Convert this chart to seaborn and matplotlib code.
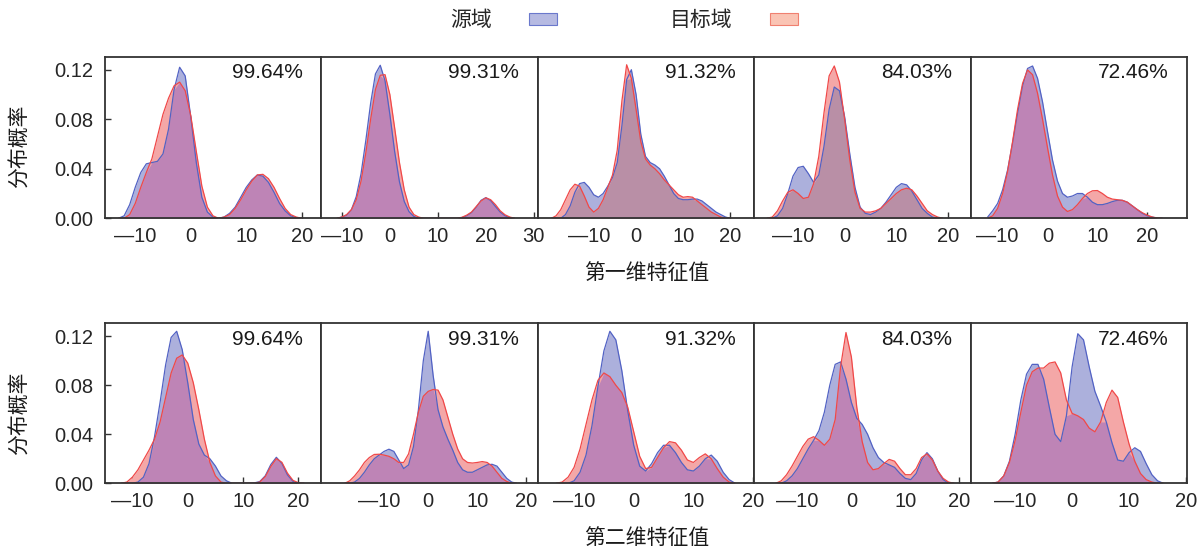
import numpy as np
import pandas as pd
import matplotlib
matplotlib.use("Agg")
import matplotlib.pyplot as plt
import seaborn as sns
from matplotlib.patches import Patch
from matplotlib.ticker import FuncFormatter

sns.set_theme(style="white")
plt.rcParams["font.family"] = ["Liberation Sans", "Noto Sans CJK SC", "DejaVu Sans"]
CJK = ["Noto Sans CJK SC", "DejaVu Sans"]

# ---------------- data (density values) ----------------
legend_labels = ["源域", "目标域"]
row_labels = ["第一维特征值", "第二维特征值"]
y_label = "分布概率"
acc_labels = ["99.64%", "99.31%", "91.32%", "84.03%", "72.46%"]

# ---- row 1 (first feature dimension) ----
r1_x1 = list(range(-13, 21))
r1_src1 = [0, .002, .011, .025, .037, .044, .045, .046, .052, .072, .104, .122, .115, .082, .045, .017, .005, .001,
           0, .001, .004, .009, .017, .025, .031, .035, .034, .029, .021, .012, .006, .002, .0005, 0]
r1_tgt1 = [0, 0, .003, .012, .025, .037, .048, .066, .084, .097, .107, .110, .103, .083, .054, .026, .009, .002,
           0, .001, .003, .008, .015, .023, .030, .035, .0355, .032, .025, .016, .008, .003, .001, 0]

r1_x2 = list(range(-11, 27))
r1_src2 = [0, .001, .0025, .007, .0175, .036, .063, .093, .1166, .1236, .111, .084, .054, .0295, .0136, .0053, .0015, 0,
           0, 0, 0, 0, 0, 0, 0, 0,
           .0005, .002, .0045, .009, .0145, .0167, .0143, .0095, .005, .002, .0005, 0]
r1_tgt2 = [0, .001, .003, .007, .015, .030, .053, .080, .104, .1155, .116, .100, .073, .045, .023, .009, .003, .001,
           0, 0, 0, 0, 0, 0, 0, 0,
           .0008, .0025, .005, .0095, .014, .0165, .015, .011, .006, .0028, .001, 0]

r1_x3 = list(range(-18, 21))
r1_src3 = [0, 0, 0, .003, .010, .021, .028, .029, .025, .019, .017, .020, .026, .033, .045, .075, .112, .120, .100,
           .068, .050, .045, .043, .040, .034, .027, .020, .016, .015, .015, .0155, .0155, .014, .011, .008, .005,
           .003, .001, 0]
r1_tgt3 = [0, .002, .007, .015, .023, .0275, .026, .018, .009, .005, .008, .015, .025, .035, .055, .095, .124, .113,
           .088, .062, .048, .043, .040, .036, .031, .027, .023, .019, .017, .0175, .017, .014, .011, .008, .005,
           .003, .001, 0, 0]

r1_x4 = list(range(-15, 20))
r1_src4 = [0, 0, .002, .008, .020, .034, .041, .042, .036, .029, .035, .058, .088, .106, .103, .082, .052, .025, .009,
           .004, .003, .005, .008, .013, .019, .025, .028, .027, .022, .015, .008, .004, .001, 0, 0]
r1_tgt4 = [0, .001, .006, .014, .021, .023, .020, .016, .017, .028, .050, .085, .115, .123, .110, .080, .047, .021,
           .008, .005, .005, .006, .008, .012, .016, .020, .023, .0243, .023, .018, .012, .006, .003, .001, 0]

r1_x5 = list(range(-12, 24))
r1_src5 = [.001, .006, .012, .023, .039, .061, .085, .107, .121, .123, .113, .094, .070, .047, .030, .020, .017, .018,
           .020, .020, .017, .013, .011, .011, .012, .0135, .0145, .0145, .013, .010, .007, .004, .002, .001, 0, 0]
r1_tgt5 = [0, .002, .008, .020, .038, .062, .088, .109, .1198, .116, .101, .080, .057, .035, .018, .009, .0055, .007,
           .011, .016, .020, .0222, .0224, .020, .017, .0155, .015, .0145, .013, .010, .007, .0045, .0025, .001,
           .0003, 0]

# ---- row 2 (second feature dimension) ----
r2_x1 = list(range(-12, 22))
r2_src1 = [0, 0, 0, .001, .005, .016, .038, .066, .0965, .119, .124, .109, .082, .052, .032, .023, .020, .014, .006,
           .002, 0, 0, 0, 0, .0003, .0014, .0061, .0153, .0212, .0162, .0069, .0016, 0, 0]
r2_tgt1 = [0, .001, .005, .011, .019, .027, .036, .050, .070, .090, .102, .1047, .098, .082, .060, .036, .017, .006,
           .001, 0, 0, 0, 0, 0, 0, .001, .0054, .0137, .0201, .0171, .0083, .0024, .0004, 0]

r2_x2 = list(range(-17, 19))
r2_src2 = [0, 0, .001, .004, .009, .015, .020, .023, .026, .0278, .026, .019, .012, .015, .030, .060, .100, .124,
           .088, .060, .046, .036, .027, .017, .011, .009, .009, .011, .013, .015, .0155, .014, .009, .004, .001, 0]
r2_tgt2 = [0, .002, .006, .011, .017, .021, .0235, .0237, .023, .022, .020, .017, .017, .024, .040, .058, .071, .075,
           .0765, .076, .068, .054, .040, .028, .020, .017, .0165, .017, .0177, .017, .014, .009, .004, .0015, 0, 0]

r2_x3 = list(range(-13, 18))
r2_src3 = [0, 0, 0, .002, .009, .023, .047, .079, .108, .124, .117, .092, .059, .031, .014, .010, .016, .025, .031,
           .031, .025, .017, .011, .010, .014, .020, .023, .018, .009, .003, 0]
r2_tgt3 = [0, .001, .005, .013, .028, .048, .068, .084, .090, .087, .080, .074, .062, .042, .022, .012, .013, .021,
           .029, .034, .033, .027, .019, .017, .021, .024, .020, .012, .005, .001, 0]

r2_x4 = list(range(-14, 20))
r2_src4 = [0, 0, .002, .006, .012, .020, .028, .035, .043, .058, .080, .097, .099, .085, .066, .053, .048, .040, .029,
           .021, .017, .015, .013, .008, .004, .003, .008, .019, .025, .020, .010, .003, 0, 0]
r2_tgt4 = [0, .002, .007, .014, .022, .030, .036, .038, .035, .031, .036, .052, .095, .123, .103, .062, .034, .017,
           .011, .012, .016, .0195, .018, .012, .007, .007, .012, .021, .024, .019, .010, .004, .001, 0]

r2_x5 = list(range(-14, 17))
r2_src5 = [0, .001, .006, .018, .040, .068, .089, .097, .097, .085, .062, .040, .034, .055, .095, .122, .117, .095,
           .075, .063, .050, .033, .019, .018, .025, .029, .026, .016, .007, .002, 0]
r2_tgt5 = [0, .001, .006, .017, .035, .058, .080, .091, .094, .094, .098, .099, .090, .068, .057, .055, .052, .045,
           .042, .050, .066, .076, .070, .050, .032, .018, .008, .003, .001, 0, 0]

rows = [
    [(r1_x1, r1_src1, r1_tgt1), (r1_x2, r1_src2, r1_tgt2), (r1_x3, r1_src3, r1_tgt3),
     (r1_x4, r1_src4, r1_tgt4), (r1_x5, r1_src5, r1_tgt5)],
    [(r2_x1, r2_src1, r2_tgt1), (r2_x2, r2_src2, r2_tgt2), (r2_x3, r2_src3, r2_tgt3),
     (r2_x4, r2_src4, r2_tgt4), (r2_x5, r2_src5, r2_tgt5)],
]

xlims = [
    [(-15.5, 23.5), (-14.3, 30.8), (-20.9, 25.1), (-17.5, 24.4), (-15.4, 28.0)],
    [(-15.0, 24.1), (-21.8, 22.3), (-16.1, 20.2), (-18.0, 22.1), (-17.8, 20.2)],
]
xticks = [
    [[-10, 0, 10, 20], [-10, 0, 10, 20, 30], [-10, 0, 10, 20], [-10, 0, 10, 20], [-10, 0, 10, 20]],
    [[-10, 0, 10, 20], [-10, 0, 10, 20], [-10, 0, 10, 20], [-10, 0, 10, 20], [-10, 0, 10, 20]],
]
yticks = [0.00, 0.04, 0.08, 0.12]

# ---------------- style ----------------
BLUE_LINE = "#5262c4"
RED_LINE = "#f04848"
BLUE_ONLY = "#acb0dc"
RED_ONLY = "#f4a7a7"
OVERLAP = "#be84b6"
OVERLAP_DULL = "#b98fa6"   # the two middle-right panels of row 1 look duller
overlap_colors = [
    [OVERLAP, OVERLAP, OVERLAP_DULL, OVERLAP_DULL, OVERLAP],
    [OVERLAP, OVERLAP, OVERLAP, OVERLAP, OVERLAP],
]
SPINE = "#333333"

fig = plt.figure(figsize=(12.02, 5.49), dpi=100)
left0 = 104.7 / 1202
pw = 216.5 / 1202
row_pos = [(0.6024, 0.2943), (0.1197, 0.2914)]


def fmt(v, pos):
    v = int(round(v))
    return f"—{abs(v)}" if v < 0 else f"{v}"


for r, panels in enumerate(rows):
    b, h = row_pos[r]
    for c, (x, src, tgt) in enumerate(panels):
        ax = fig.add_axes([left0 + c * pw, b, pw, h])
        df = pd.DataFrame({
            "x": x + x,
            "y": src + tgt,
            "domain": [legend_labels[0]] * len(x) + [legend_labels[1]] * len(x),
        })
        both = np.minimum(src, tgt)
        ax.fill_between(x, src, color=BLUE_ONLY, lw=0, zorder=1)
        ax.fill_between(x, tgt, color=RED_ONLY, lw=0, zorder=1.5)
        ax.fill_between(x, both, color=overlap_colors[r][c], lw=0, zorder=2)
        sns.lineplot(data=df, x="x", y="y", hue="domain",
                     palette={legend_labels[0]: BLUE_LINE, legend_labels[1]: RED_LINE},
                     estimator=None, legend=False, lw=0.9, ax=ax, zorder=3)
        ax.set_xlim(*xlims[r][c])
        ax.set_ylim(0, 0.1305)
        ax.set_xticks(xticks[r][c])
        ax.xaxis.set_major_formatter(FuncFormatter(fmt))
        ax.set_xlabel("")
        ax.set_ylabel("")
        ax.tick_params(axis="x", direction="in", length=4, width=1, color=SPINE,
                       labelsize=14.5, pad=6, bottom=True)
        if c == 0:
            ax.set_yticks(yticks)
            ax.set_yticklabels([f"{v:.2f}" for v in yticks])
            ax.tick_params(axis="y", direction="in", length=4, width=1, color=SPINE,
                           labelsize=14.5, pad=8, left=True)
        else:
            ax.set_yticks([])
        for s in ax.spines.values():
            s.set_color(SPINE)
            s.set_linewidth(1.3)
            s.set_visible(True)
            s.set_zorder(5)
        ax.text(0.915, 0.9, acc_labels[c], transform=ax.transAxes, ha="right", va="center",
                fontsize=15, color="#1a1a1a")

# axis titles
fig.text(20 / 1202, 1 - 146.5 / 549, y_label, rotation=90, ha="center", va="center",
         fontsize=15, family=CJK, color="#1a1a1a")
fig.text(20 / 1202, 1 - 413.5 / 549, y_label, rotation=90, ha="center", va="center",
         fontsize=15, family=CJK, color="#1a1a1a")
fig.text(647 / 1202, 1 - 273 / 549, row_labels[0], ha="center", va="center",
         fontsize=15, family=CJK, color="#1a1a1a")
fig.text(647 / 1202, 1 - 538 / 549, row_labels[1], ha="center", va="center",
         fontsize=15, family=CJK, color="#1a1a1a")

handles = [Patch(facecolor="#b6bae2", edgecolor="#6a78cc", lw=0.8),
           Patch(facecolor="#fac4b4", edgecolor="#f08070", lw=0.8)]
leg = fig.legend(handles, legend_labels, loc="center", bbox_to_anchor=(624 / 1202, 1 - 20 / 549),
                 ncol=2, frameon=False, markerfirst=False, columnspacing=5.4, handletextpad=1.8,
                 handlelength=1.35, handleheight=0.5, prop={"family": CJK, "size": 15})

fig.savefig("out.png", dpi=100)
